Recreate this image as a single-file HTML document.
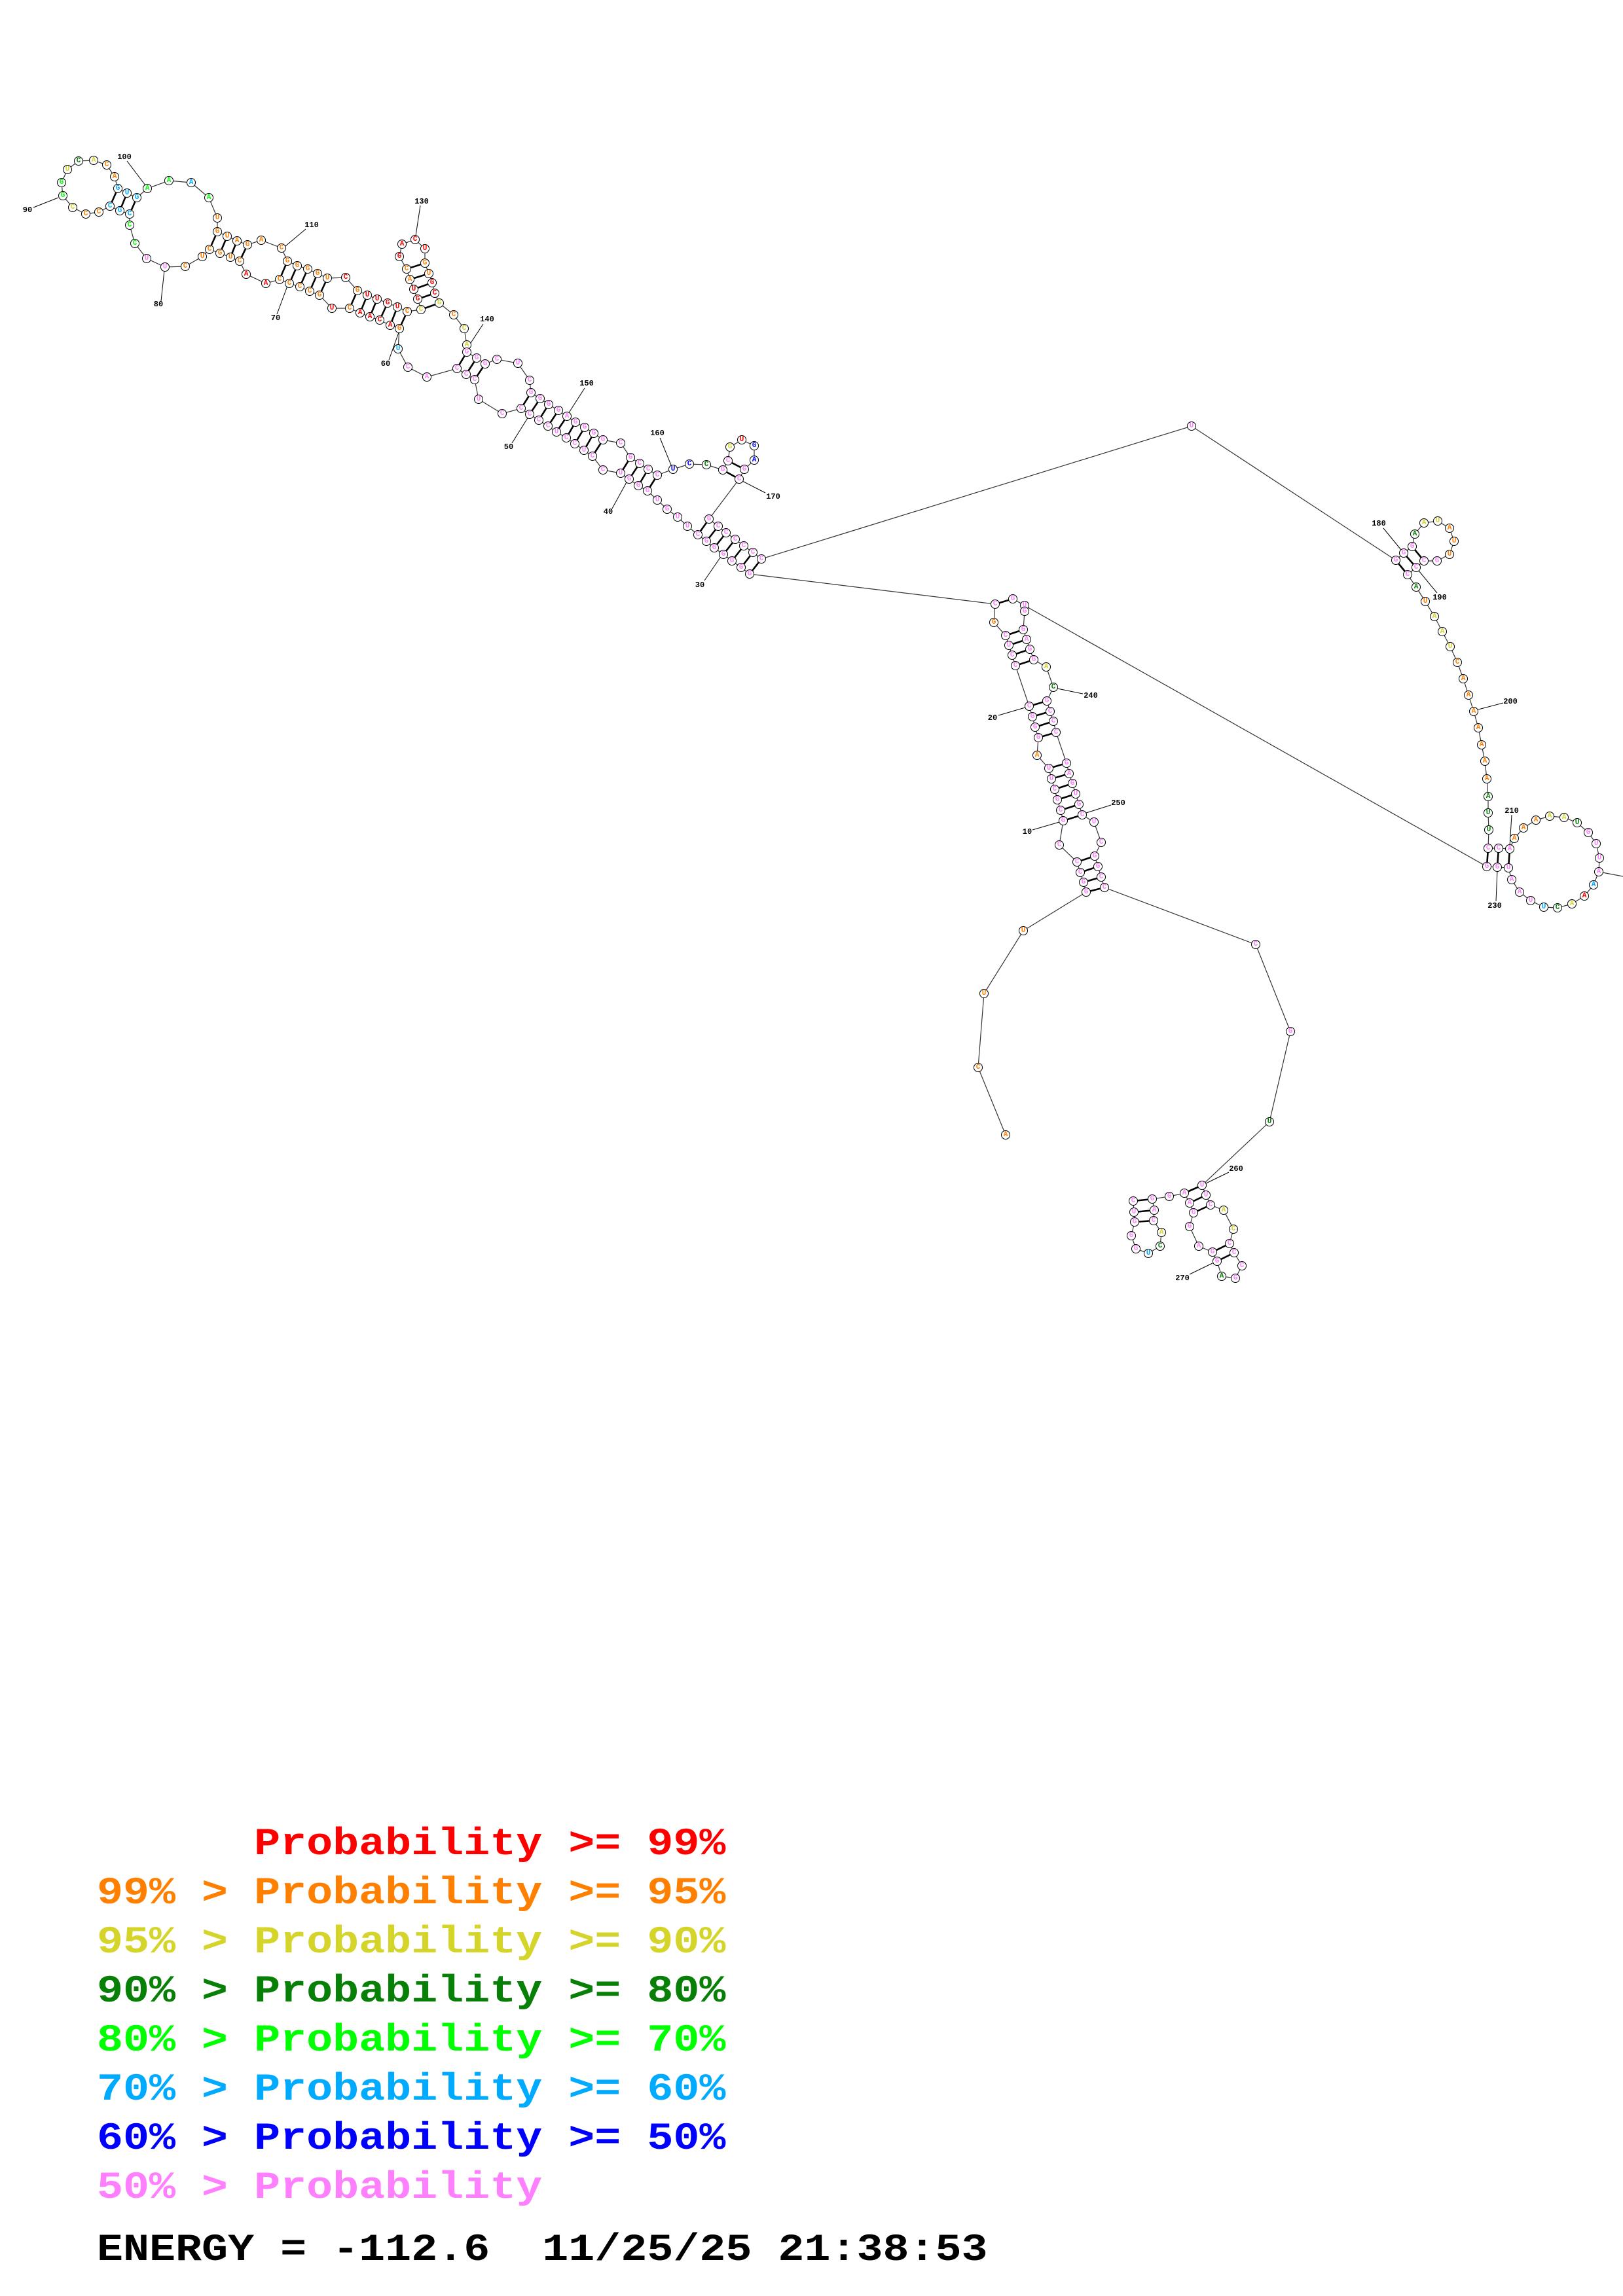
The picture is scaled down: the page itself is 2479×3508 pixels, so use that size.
<!DOCTYPE html>
<html>
<head>
<meta charset="utf-8">
<style>
html,body{margin:0;padding:0;background:#fff;}
svg{display:block;}
.bb{fill:none;stroke:#333;stroke-width:1.2;}
.pr{fill:none;stroke:#000;stroke-width:2.6;}
.tk{fill:none;stroke:#000;stroke-width:1;}
circle{fill:#fff;stroke:#000;stroke-width:1;}
text.n{font-family:"Liberation Mono",monospace;font-weight:bold;font-size:11px;text-anchor:middle;dominant-baseline:central;}
text.lb{font-family:"Liberation Mono",monospace;font-weight:bold;font-size:12px;text-anchor:middle;dominant-baseline:central;fill:#000;}
.r{fill:#ff0000}.o{fill:#ff8000}.y{fill:#d4d42a}.d{fill:#088008}.l{fill:#00ff00}.b{fill:#00aaff}.u{fill:#0000ff}.p{fill:#ff80ff}
text.lg{font-family:"Liberation Mono",monospace;font-weight:bold;font-size:66.7px;white-space:pre;}
</style>
</head>
<body>
<svg width="2479" height="3508" viewBox="0 0 2479 3508" xmlns="http://www.w3.org/2000/svg">
<rect x="0" y="0" width="2479" height="3508" fill="#fff"/>
<polyline class="bb" points="1536,1734 1494,1631 1503,1518 1563,1422 1659,1363 1655,1348 1650,1333 1645,1317 1618,1291 1624,1254 1620,1238 1615,1222 1611,1206 1606,1190 1602,1174 1584,1154 1586,1127 1581,1111 1577,1095 1572,1079 1551,1017 1546,1001 1541,986 1536,971 1518,951 1520,923 1145,877 1132,867 1118,857 1105,847 1091,837 1079,827 1066,817 1050,804 1035,790 1019,778 1004,764 989,750 975,742 961,732 948,723 921,718 905,697 892,688 878,678 865,669 850,660 837,651 823,642 809,633 796,624 767,632 731,610 725,580 712,572 698,563 652,576 623,561 608,533 610,502 596,497 580,489 565,484 550,478 534,471 507,471 488,451 473,445 458,438 442,433 427,427 406,433 376,419 366,399 352,393 336,387 320,381 309,392 283,407 252,408 224,395 206,372 198,344 198,327 183,322 168,315 151,324 131,327 111,317 96,299 94,279 103,259 120,246 143,245 163,252 175,270 180,288 194,295 209,302 225,288 258,276 292,279 319,302 332,333 332,354 347,361 362,368 378,374 399,367 430,379 439,399 454,406 470,411 485,418 500,425 528,424 546,444 561,451 576,457 592,463 607,469 622,476 643,473 638,457 632,442 626,427 621,411 610,392 614,373 634,366 649,380 649,402 655,418 660,432 664,448 671,463 693,481 709,502 713,527 713,538 728,547 741,556 759,549 791,555 809,581 811,600 825,609 838,618 853,627 866,636 879,645 893,653 907,662 921,672 948,677 963,699 977,708 990,717 1004,726 1028,717 1053,709 1079,710 1104,718 1112,704 1115,683 1133,672 1152,681 1152,703 1137,717 1129,732 1083,793 1097,804 1109,814 1123,824 1136,834 1150,844 1163,854 1820,651 2132,856 2144,845 2157,835 2161,816 2175,799 2196,796 2214,807 2221,827 2214,847 2195,857 2175,857 2163,867 2150,878 2163,897 2177,919 2191,942 2203,965 2215,988 2226,1012 2235,1037 2243,1062 2251,1087 2258,1112 2263,1138 2268,1163 2271,1190 2273,1217 2273,1242 2274,1268 2273,1296 2289,1296 2306,1297 2313,1281 2327,1265 2346,1253 2367,1247 2389,1249 2409,1257 2426,1272 2438,1289 2443,1311 2442,1332 2434,1352 2420,1369 2401,1381 2379,1387 2358,1386 2338,1376 2321,1363 2309,1344 2304,1326 2287,1325 2271,1324 1547,915 1565,925 1565,934 1563,962 1568,977 1573,992 1579,1008 1598,1019 1609,1050 1599,1071 1604,1087 1609,1102 1613,1119 1629,1166 1633,1182 1638,1197 1643,1213 1648,1229 1653,1245 1671,1256 1682,1287 1672,1308 1677,1324 1682,1340 1687,1356 1918,1443 1971,1576 1939,1714 1836,1811 1842,1826 1849,1841 1869,1849 1884,1878 1878,1900 1885,1914 1897,1934 1887,1953 1866,1950 1859,1927 1852,1913 1831,1904 1817,1874 1823,1853 1817,1838 1809,1823 1786,1828 1760,1832 1763,1849 1762,1865 1774,1883 1772,1904 1754,1915 1735,1908 1728,1888 1733,1867 1732,1852 1731,1835"/>
<path class="bb" d="M2442 1332L2495 1342"/>
<path class="pr" d="M1659 1363L1687 1356M1655 1348L1682 1340M1650 1333L1677 1324M1645 1317L1672 1308M1624 1254L1653 1245M1620 1238L1648 1229M1615 1222L1643 1213M1611 1206L1638 1197M1606 1190L1633 1182M1602 1174L1629 1166M1586 1127L1613 1119M1581 1111L1609 1102M1577 1095L1604 1087M1572 1079L1599 1071M1551 1017L1579 1008M1546 1001L1573 992M1541 986L1568 977M1536 971L1563 962M1520 923L1547 915M1145 877L1163 854M1132 867L1150 844M1118 857L1136 834M1105 847L1123 824M1091 837L1109 814M1079 827L1097 804M1066 817L1083 793M1104 718L1129 732M1112 704L1137 717M989 750L1004 726M975 742L990 717M961 732L977 708M948 723L963 699M905 697L921 672M892 688L907 662M878 678L893 653M865 669L879 645M850 660L866 636M837 651L853 627M823 642L838 618M809 633L825 609M796 624L811 600M725 580L741 556M712 572L728 547M698 563L713 538M610 502L622 476M596 497L607 469M580 489L592 463M565 484L576 457M550 478L561 451M534 471L546 444M643 473L671 463M638 457L664 448M632 442L660 432M626 427L655 418M621 411L649 402M488 451L500 425M473 445L485 418M458 438L470 411M442 433L454 406M427 427L439 399M366 399L378 374M352 393L362 368M336 387L347 361M320 381L332 354M198 327L209 302M183 322L194 295M168 315L180 288M2132 856L2150 878M2144 845L2163 867M2157 835L2175 857M2273 1296L2271 1324M2289 1296L2287 1325M2306 1297L2304 1326M1836 1811L1809 1823M1842 1826L1817 1838M1849 1841L1823 1853M1878 1900L1852 1913M1885 1914L1859 1927M1760 1832L1731 1835M1763 1849L1732 1852M1762 1865L1733 1867"/>
<path class="tk" d="M1577 1268L1618 1256M1525 1093L1566 1081M1076 887L1100 852M935 777L958 735M782 677L807 637M594 550L609 508M423 480L439 437M246 460L251 413M51 317L89 302M194 246L222 283M467 350L436 376M642 314L635 360M738 495L717 527M893 593L868 632M1008 669L1026 713M1169 753L1134 735M2113 807L2140 840M2195 906L2167 872M2296 1074L2258 1084M2309 1245L2306 1293M2285 1377L2287 1330M1654 1060L1615 1052M1697 1230L1659 1242M1877 1791L1842 1808M1817 1947L1852 1930"/>
<g>
<circle cx="1536" cy="1734" r="6.5"/><text class="n o" x="1536" y="1734">A</text>
<circle cx="1494" cy="1631" r="6.5"/><text class="n o" x="1494" y="1631">C</text>
<circle cx="1503" cy="1518" r="6.5"/><text class="n o" x="1503" y="1518">U</text>
<circle cx="1563" cy="1422" r="6.5"/><text class="n o" x="1563" y="1422">U</text>
<circle cx="1659" cy="1363" r="6.5"/><text class="n p" x="1659" y="1363">G</text>
<circle cx="1655" cy="1348" r="6.5"/><text class="n p" x="1655" y="1348">G</text>
<circle cx="1650" cy="1333" r="6.5"/><text class="n p" x="1650" y="1333">C</text>
<circle cx="1645" cy="1317" r="6.5"/><text class="n p" x="1645" y="1317">C</text>
<circle cx="1618" cy="1291" r="6.5"/><text class="n p" x="1618" y="1291">C</text>
<circle cx="1624" cy="1254" r="6.5"/><text class="n p" x="1624" y="1254">G</text>
<circle cx="1620" cy="1238" r="6.5"/><text class="n p" x="1620" y="1238">C</text>
<circle cx="1615" cy="1222" r="6.5"/><text class="n p" x="1615" y="1222">G</text>
<circle cx="1611" cy="1206" r="6.5"/><text class="n p" x="1611" y="1206">C</text>
<circle cx="1606" cy="1190" r="6.5"/><text class="n p" x="1606" y="1190">U</text>
<circle cx="1602" cy="1174" r="6.5"/><text class="n p" x="1602" y="1174">U</text>
<circle cx="1584" cy="1154" r="6.5"/><text class="n o" x="1584" y="1154">A</text>
<circle cx="1586" cy="1127" r="6.5"/><text class="n p" x="1586" y="1127">G</text>
<circle cx="1581" cy="1111" r="6.5"/><text class="n p" x="1581" y="1111">G</text>
<circle cx="1577" cy="1095" r="6.5"/><text class="n p" x="1577" y="1095">G</text>
<circle cx="1572" cy="1079" r="6.5"/><text class="n p" x="1572" y="1079">C</text>
<circle cx="1551" cy="1017" r="6.5"/><text class="n p" x="1551" y="1017">C</text>
<circle cx="1546" cy="1001" r="6.5"/><text class="n p" x="1546" y="1001">C</text>
<circle cx="1541" cy="986" r="6.5"/><text class="n p" x="1541" y="986">U</text>
<circle cx="1536" cy="971" r="6.5"/><text class="n p" x="1536" y="971">C</text>
<circle cx="1518" cy="951" r="6.5"/><text class="n o" x="1518" y="951">G</text>
<circle cx="1520" cy="923" r="6.5"/><text class="n p" x="1520" y="923">C</text>
<circle cx="1145" cy="877" r="6.5"/><text class="n p" x="1145" y="877">G</text>
<circle cx="1132" cy="867" r="6.5"/><text class="n p" x="1132" y="867">G</text>
<circle cx="1118" cy="857" r="6.5"/><text class="n p" x="1118" y="857">G</text>
<circle cx="1105" cy="847" r="6.5"/><text class="n p" x="1105" y="847">G</text>
<circle cx="1091" cy="837" r="6.5"/><text class="n p" x="1091" y="837">G</text>
<circle cx="1079" cy="827" r="6.5"/><text class="n p" x="1079" y="827">G</text>
<circle cx="1066" cy="817" r="6.5"/><text class="n p" x="1066" y="817">C</text>
<circle cx="1050" cy="804" r="6.5"/><text class="n p" x="1050" y="804">U</text>
<circle cx="1035" cy="790" r="6.5"/><text class="n p" x="1035" y="790">U</text>
<circle cx="1019" cy="778" r="6.5"/><text class="n p" x="1019" y="778">G</text>
<circle cx="1004" cy="764" r="6.5"/><text class="n p" x="1004" y="764">U</text>
<circle cx="989" cy="750" r="6.5"/><text class="n p" x="989" y="750">G</text>
<circle cx="975" cy="742" r="6.5"/><text class="n p" x="975" y="742">G</text>
<circle cx="961" cy="732" r="6.5"/><text class="n p" x="961" y="732">G</text>
<circle cx="948" cy="723" r="6.5"/><text class="n p" x="948" y="723">U</text>
<circle cx="921" cy="718" r="6.5"/><text class="n p" x="921" y="718">C</text>
<circle cx="905" cy="697" r="6.5"/><text class="n p" x="905" y="697">C</text>
<circle cx="892" cy="688" r="6.5"/><text class="n p" x="892" y="688">U</text>
<circle cx="878" cy="678" r="6.5"/><text class="n p" x="878" y="678">C</text>
<circle cx="865" cy="669" r="6.5"/><text class="n p" x="865" y="669">C</text>
<circle cx="850" cy="660" r="6.5"/><text class="n p" x="850" y="660">U</text>
<circle cx="837" cy="651" r="6.5"/><text class="n p" x="837" y="651">C</text>
<circle cx="823" cy="642" r="6.5"/><text class="n p" x="823" y="642">C</text>
<circle cx="809" cy="633" r="6.5"/><text class="n p" x="809" y="633">C</text>
<circle cx="796" cy="624" r="6.5"/><text class="n p" x="796" y="624">C</text>
<circle cx="767" cy="632" r="6.5"/><text class="n p" x="767" y="632">C</text>
<circle cx="731" cy="610" r="6.5"/><text class="n p" x="731" y="610">U</text>
<circle cx="725" cy="580" r="6.5"/><text class="n p" x="725" y="580">C</text>
<circle cx="712" cy="572" r="6.5"/><text class="n p" x="712" y="572">C</text>
<circle cx="698" cy="563" r="6.5"/><text class="n p" x="698" y="563">C</text>
<circle cx="652" cy="576" r="6.5"/><text class="n p" x="652" y="576">A</text>
<circle cx="623" cy="561" r="6.5"/><text class="n p" x="623" y="561">C</text>
<circle cx="608" cy="533" r="6.5"/><text class="n b" x="608" y="533">U</text>
<circle cx="610" cy="502" r="6.5"/><text class="n o" x="610" y="502">G</text>
<circle cx="596" cy="497" r="6.5"/><text class="n r" x="596" y="497">A</text>
<circle cx="580" cy="489" r="6.5"/><text class="n r" x="580" y="489">C</text>
<circle cx="565" cy="484" r="6.5"/><text class="n r" x="565" y="484">A</text>
<circle cx="550" cy="478" r="6.5"/><text class="n r" x="550" y="478">A</text>
<circle cx="534" cy="471" r="6.5"/><text class="n o" x="534" y="471">C</text>
<circle cx="507" cy="471" r="6.5"/><text class="n r" x="507" y="471">U</text>
<circle cx="488" cy="451" r="6.5"/><text class="n o" x="488" y="451">G</text>
<circle cx="473" cy="445" r="6.5"/><text class="n o" x="473" y="445">C</text>
<circle cx="458" cy="438" r="6.5"/><text class="n o" x="458" y="438">C</text>
<circle cx="442" cy="433" r="6.5"/><text class="n o" x="442" y="433">C</text>
<circle cx="427" cy="427" r="6.5"/><text class="n o" x="427" y="427">C</text>
<circle cx="406" cy="433" r="6.5"/><text class="n r" x="406" y="433">A</text>
<circle cx="376" cy="419" r="6.5"/><text class="n r" x="376" y="419">A</text>
<circle cx="366" cy="399" r="6.5"/><text class="n o" x="366" y="399">C</text>
<circle cx="352" cy="393" r="6.5"/><text class="n o" x="352" y="393">U</text>
<circle cx="336" cy="387" r="6.5"/><text class="n o" x="336" y="387">G</text>
<circle cx="320" cy="381" r="6.5"/><text class="n o" x="320" y="381">C</text>
<circle cx="309" cy="392" r="6.5"/><text class="n o" x="309" y="392">U</text>
<circle cx="283" cy="407" r="6.5"/><text class="n o" x="283" y="407">C</text>
<circle cx="252" cy="408" r="6.5"/><text class="n p" x="252" y="408">U</text>
<circle cx="224" cy="395" r="6.5"/><text class="n p" x="224" y="395">U</text>
<circle cx="206" cy="372" r="6.5"/><text class="n l" x="206" y="372">C</text>
<circle cx="198" cy="344" r="6.5"/><text class="n l" x="198" y="344">C</text>
<circle cx="198" cy="327" r="6.5"/><text class="n b" x="198" y="327">C</text>
<circle cx="183" cy="322" r="6.5"/><text class="n b" x="183" y="322">G</text>
<circle cx="168" cy="315" r="6.5"/><text class="n b" x="168" y="315">C</text>
<circle cx="151" cy="324" r="6.5"/><text class="n o" x="151" y="324">C</text>
<circle cx="131" cy="327" r="6.5"/><text class="n o" x="131" y="327">C</text>
<circle cx="111" cy="317" r="6.5"/><text class="n y" x="111" y="317">C</text>
<circle cx="96" cy="299" r="6.5"/><text class="n l" x="96" y="299">G</text>
<circle cx="94" cy="279" r="6.5"/><text class="n l" x="94" y="279">G</text>
<circle cx="103" cy="259" r="6.5"/><text class="n y" x="103" y="259">U</text>
<circle cx="120" cy="246" r="6.5"/><text class="n d" x="120" y="246">C</text>
<circle cx="143" cy="245" r="6.5"/><text class="n y" x="143" y="245">A</text>
<circle cx="163" cy="252" r="6.5"/><text class="n o" x="163" y="252">C</text>
<circle cx="175" cy="270" r="6.5"/><text class="n o" x="175" y="270">A</text>
<circle cx="180" cy="288" r="6.5"/><text class="n b" x="180" y="288">G</text>
<circle cx="194" cy="295" r="6.5"/><text class="n b" x="194" y="295">U</text>
<circle cx="209" cy="302" r="6.5"/><text class="n b" x="209" y="302">G</text>
<circle cx="225" cy="288" r="6.5"/><text class="n l" x="225" y="288">A</text>
<circle cx="258" cy="276" r="6.5"/><text class="n l" x="258" y="276">A</text>
<circle cx="292" cy="279" r="6.5"/><text class="n b" x="292" y="279">A</text>
<circle cx="319" cy="302" r="6.5"/><text class="n l" x="319" y="302">A</text>
<circle cx="332" cy="333" r="6.5"/><text class="n o" x="332" y="333">U</text>
<circle cx="332" cy="354" r="6.5"/><text class="n o" x="332" y="354">G</text>
<circle cx="347" cy="361" r="6.5"/><text class="n o" x="347" y="361">U</text>
<circle cx="362" cy="368" r="6.5"/><text class="n o" x="362" y="368">A</text>
<circle cx="378" cy="374" r="6.5"/><text class="n o" x="378" y="374">G</text>
<circle cx="399" cy="367" r="6.5"/><text class="n o" x="399" y="367">A</text>
<circle cx="430" cy="379" r="6.5"/><text class="n o" x="430" y="379">C</text>
<circle cx="439" cy="399" r="6.5"/><text class="n o" x="439" y="399">G</text>
<circle cx="454" cy="406" r="6.5"/><text class="n o" x="454" y="406">G</text>
<circle cx="470" cy="411" r="6.5"/><text class="n o" x="470" y="411">G</text>
<circle cx="485" cy="418" r="6.5"/><text class="n o" x="485" y="418">G</text>
<circle cx="500" cy="425" r="6.5"/><text class="n o" x="500" y="425">U</text>
<circle cx="528" cy="424" r="6.5"/><text class="n r" x="528" y="424">C</text>
<circle cx="546" cy="444" r="6.5"/><text class="n o" x="546" y="444">G</text>
<circle cx="561" cy="451" r="6.5"/><text class="n r" x="561" y="451">U</text>
<circle cx="576" cy="457" r="6.5"/><text class="n r" x="576" y="457">U</text>
<circle cx="592" cy="463" r="6.5"/><text class="n r" x="592" y="463">G</text>
<circle cx="607" cy="469" r="6.5"/><text class="n r" x="607" y="469">U</text>
<circle cx="622" cy="476" r="6.5"/><text class="n o" x="622" y="476">C</text>
<circle cx="643" cy="473" r="6.5"/><text class="n y" x="643" y="473">C</text>
<circle cx="638" cy="457" r="6.5"/><text class="n r" x="638" y="457">G</text>
<circle cx="632" cy="442" r="6.5"/><text class="n r" x="632" y="442">U</text>
<circle cx="626" cy="427" r="6.5"/><text class="n o" x="626" y="427">A</text>
<circle cx="621" cy="411" r="6.5"/><text class="n o" x="621" y="411">C</text>
<circle cx="610" cy="392" r="6.5"/><text class="n r" x="610" y="392">G</text>
<circle cx="614" cy="373" r="6.5"/><text class="n r" x="614" y="373">A</text>
<circle cx="634" cy="366" r="6.5"/><text class="n r" x="634" y="366">C</text>
<circle cx="649" cy="380" r="6.5"/><text class="n r" x="649" y="380">U</text>
<circle cx="649" cy="402" r="6.5"/><text class="n o" x="649" y="402">G</text>
<circle cx="655" cy="418" r="6.5"/><text class="n o" x="655" y="418">U</text>
<circle cx="660" cy="432" r="6.5"/><text class="n r" x="660" y="432">G</text>
<circle cx="664" cy="448" r="6.5"/><text class="n r" x="664" y="448">C</text>
<circle cx="671" cy="463" r="6.5"/><text class="n y" x="671" y="463">G</text>
<circle cx="693" cy="481" r="6.5"/><text class="n o" x="693" y="481">C</text>
<circle cx="709" cy="502" r="6.5"/><text class="n y" x="709" y="502">C</text>
<circle cx="713" cy="527" r="6.5"/><text class="n y" x="713" y="527">A</text>
<circle cx="713" cy="538" r="6.5"/><text class="n p" x="713" y="538">G</text>
<circle cx="728" cy="547" r="6.5"/><text class="n p" x="728" y="547">G</text>
<circle cx="741" cy="556" r="6.5"/><text class="n p" x="741" y="556">G</text>
<circle cx="759" cy="549" r="6.5"/><text class="n p" x="759" y="549">C</text>
<circle cx="791" cy="555" r="6.5"/><text class="n p" x="791" y="555">U</text>
<circle cx="809" cy="581" r="6.5"/><text class="n p" x="809" y="581">C</text>
<circle cx="811" cy="600" r="6.5"/><text class="n p" x="811" y="600">G</text>
<circle cx="825" cy="609" r="6.5"/><text class="n p" x="825" y="609">G</text>
<circle cx="838" cy="618" r="6.5"/><text class="n p" x="838" y="618">G</text>
<circle cx="853" cy="627" r="6.5"/><text class="n p" x="853" y="627">G</text>
<circle cx="866" cy="636" r="6.5"/><text class="n p" x="866" y="636">A</text>
<circle cx="879" cy="645" r="6.5"/><text class="n p" x="879" y="645">G</text>
<circle cx="893" cy="653" r="6.5"/><text class="n p" x="893" y="653">G</text>
<circle cx="907" cy="662" r="6.5"/><text class="n p" x="907" y="662">G</text>
<circle cx="921" cy="672" r="6.5"/><text class="n p" x="921" y="672">G</text>
<circle cx="948" cy="677" r="6.5"/><text class="n p" x="948" y="677">C</text>
<circle cx="963" cy="699" r="6.5"/><text class="n p" x="963" y="699">G</text>
<circle cx="977" cy="708" r="6.5"/><text class="n p" x="977" y="708">C</text>
<circle cx="990" cy="717" r="6.5"/><text class="n p" x="990" y="717">C</text>
<circle cx="1004" cy="726" r="6.5"/><text class="n p" x="1004" y="726">C</text>
<circle cx="1028" cy="717" r="6.5"/><text class="n u" x="1028" y="717">U</text>
<circle cx="1053" cy="709" r="6.5"/><text class="n u" x="1053" y="709">C</text>
<circle cx="1079" cy="710" r="6.5"/><text class="n d" x="1079" y="710">C</text>
<circle cx="1104" cy="718" r="6.5"/><text class="n p" x="1104" y="718">G</text>
<circle cx="1112" cy="704" r="6.5"/><text class="n p" x="1112" y="704">C</text>
<circle cx="1115" cy="683" r="6.5"/><text class="n y" x="1115" y="683">G</text>
<circle cx="1133" cy="672" r="6.5"/><text class="n r" x="1133" y="672">U</text>
<circle cx="1152" cy="681" r="6.5"/><text class="n u" x="1152" y="681">G</text>
<circle cx="1152" cy="703" r="6.5"/><text class="n u" x="1152" y="703">A</text>
<circle cx="1137" cy="717" r="6.5"/><text class="n p" x="1137" y="717">G</text>
<circle cx="1129" cy="732" r="6.5"/><text class="n p" x="1129" y="732">C</text>
<circle cx="1083" cy="793" r="6.5"/><text class="n p" x="1083" y="793">G</text>
<circle cx="1097" cy="804" r="6.5"/><text class="n p" x="1097" y="804">C</text>
<circle cx="1109" cy="814" r="6.5"/><text class="n p" x="1109" y="814">C</text>
<circle cx="1123" cy="824" r="6.5"/><text class="n p" x="1123" y="824">C</text>
<circle cx="1136" cy="834" r="6.5"/><text class="n p" x="1136" y="834">C</text>
<circle cx="1150" cy="844" r="6.5"/><text class="n p" x="1150" y="844">C</text>
<circle cx="1163" cy="854" r="6.5"/><text class="n p" x="1163" y="854">C</text>
<circle cx="1820" cy="651" r="6.5"/><text class="n p" x="1820" y="651">U</text>
<circle cx="2132" cy="856" r="6.5"/><text class="n p" x="2132" y="856">G</text>
<circle cx="2144" cy="845" r="6.5"/><text class="n p" x="2144" y="845">G</text>
<circle cx="2157" cy="835" r="6.5"/><text class="n p" x="2157" y="835">G</text>
<circle cx="2161" cy="816" r="6.5"/><text class="n d" x="2161" y="816">A</text>
<circle cx="2175" cy="799" r="6.5"/><text class="n y" x="2175" y="799">A</text>
<circle cx="2196" cy="796" r="6.5"/><text class="n y" x="2196" y="796">U</text>
<circle cx="2214" cy="807" r="6.5"/><text class="n o" x="2214" y="807">A</text>
<circle cx="2221" cy="827" r="6.5"/><text class="n o" x="2221" y="827">U</text>
<circle cx="2214" cy="847" r="6.5"/><text class="n o" x="2214" y="847">U</text>
<circle cx="2195" cy="857" r="6.5"/><text class="n p" x="2195" y="857">G</text>
<circle cx="2175" cy="857" r="6.5"/><text class="n p" x="2175" y="857">C</text>
<circle cx="2163" cy="867" r="6.5"/><text class="n p" x="2163" y="867">C</text>
<circle cx="2150" cy="878" r="6.5"/><text class="n p" x="2150" y="878">C</text>
<circle cx="2163" cy="897" r="6.5"/><text class="n d" x="2163" y="897">A</text>
<circle cx="2177" cy="919" r="6.5"/><text class="n o" x="2177" y="919">U</text>
<circle cx="2191" cy="942" r="6.5"/><text class="n y" x="2191" y="942">A</text>
<circle cx="2203" cy="965" r="6.5"/><text class="n y" x="2203" y="965">A</text>
<circle cx="2215" cy="988" r="6.5"/><text class="n y" x="2215" y="988">U</text>
<circle cx="2226" cy="1012" r="6.5"/><text class="n o" x="2226" y="1012">C</text>
<circle cx="2235" cy="1037" r="6.5"/><text class="n o" x="2235" y="1037">A</text>
<circle cx="2243" cy="1062" r="6.5"/><text class="n o" x="2243" y="1062">A</text>
<circle cx="2251" cy="1087" r="6.5"/><text class="n o" x="2251" y="1087">A</text>
<circle cx="2258" cy="1112" r="6.5"/><text class="n o" x="2258" y="1112">A</text>
<circle cx="2263" cy="1138" r="6.5"/><text class="n o" x="2263" y="1138">A</text>
<circle cx="2268" cy="1163" r="6.5"/><text class="n o" x="2268" y="1163">A</text>
<circle cx="2271" cy="1190" r="6.5"/><text class="n o" x="2271" y="1190">A</text>
<circle cx="2273" cy="1217" r="6.5"/><text class="n d" x="2273" y="1217">A</text>
<circle cx="2273" cy="1242" r="6.5"/><text class="n d" x="2273" y="1242">U</text>
<circle cx="2274" cy="1268" r="6.5"/><text class="n d" x="2274" y="1268">U</text>
<circle cx="2273" cy="1296" r="6.5"/><text class="n p" x="2273" y="1296">C</text>
<circle cx="2289" cy="1296" r="6.5"/><text class="n p" x="2289" y="1296">C</text>
<circle cx="2306" cy="1297" r="6.5"/><text class="n p" x="2306" y="1297">A</text>
<circle cx="2313" cy="1281" r="6.5"/><text class="n o" x="2313" y="1281">A</text>
<circle cx="2327" cy="1265" r="6.5"/><text class="n o" x="2327" y="1265">A</text>
<circle cx="2346" cy="1253" r="6.5"/><text class="n o" x="2346" y="1253">A</text>
<circle cx="2367" cy="1247" r="6.5"/><text class="n y" x="2367" y="1247">A</text>
<circle cx="2389" cy="1249" r="6.5"/><text class="n y" x="2389" y="1249">A</text>
<circle cx="2409" cy="1257" r="6.5"/><text class="n d" x="2409" y="1257">U</text>
<circle cx="2426" cy="1272" r="6.5"/><text class="n p" x="2426" y="1272">G</text>
<circle cx="2438" cy="1289" r="6.5"/><text class="n p" x="2438" y="1289">U</text>
<circle cx="2443" cy="1311" r="6.5"/><text class="n p" x="2443" y="1311">U</text>
<circle cx="2442" cy="1332" r="6.5"/><text class="n p" x="2442" y="1332">A</text>
<circle cx="2434" cy="1352" r="6.5"/><text class="n b" x="2434" y="1352">A</text>
<circle cx="2420" cy="1369" r="6.5"/><text class="n r" x="2420" y="1369">A</text>
<circle cx="2401" cy="1381" r="6.5"/><text class="n y" x="2401" y="1381">A</text>
<circle cx="2379" cy="1387" r="6.5"/><text class="n d" x="2379" y="1387">C</text>
<circle cx="2358" cy="1386" r="6.5"/><text class="n b" x="2358" y="1386">U</text>
<circle cx="2338" cy="1376" r="6.5"/><text class="n p" x="2338" y="1376">U</text>
<circle cx="2321" cy="1363" r="6.5"/><text class="n p" x="2321" y="1363">A</text>
<circle cx="2309" cy="1344" r="6.5"/><text class="n p" x="2309" y="1344">A</text>
<circle cx="2304" cy="1326" r="6.5"/><text class="n p" x="2304" y="1326">U</text>
<circle cx="2287" cy="1325" r="6.5"/><text class="n p" x="2287" y="1325">G</text>
<circle cx="2271" cy="1324" r="6.5"/><text class="n p" x="2271" y="1324">G</text>
<circle cx="1547" cy="915" r="6.5"/><text class="n p" x="1547" y="915">G</text>
<circle cx="1565" cy="925" r="6.5"/><text class="n p" x="1565" y="925">U</text>
<circle cx="1565" cy="934" r="6.5"/><text class="n p" x="1565" y="934">G</text>
<circle cx="1563" cy="962" r="6.5"/><text class="n p" x="1563" y="962">G</text>
<circle cx="1568" cy="977" r="6.5"/><text class="n p" x="1568" y="977">A</text>
<circle cx="1573" cy="992" r="6.5"/><text class="n p" x="1573" y="992">G</text>
<circle cx="1579" cy="1008" r="6.5"/><text class="n p" x="1579" y="1008">G</text>
<circle cx="1598" cy="1019" r="6.5"/><text class="n y" x="1598" y="1019">A</text>
<circle cx="1609" cy="1050" r="6.5"/><text class="n d" x="1609" y="1050">C</text>
<circle cx="1599" cy="1071" r="6.5"/><text class="n p" x="1599" y="1071">G</text>
<circle cx="1604" cy="1087" r="6.5"/><text class="n p" x="1604" y="1087">C</text>
<circle cx="1609" cy="1102" r="6.5"/><text class="n p" x="1609" y="1102">C</text>
<circle cx="1613" cy="1119" r="6.5"/><text class="n p" x="1613" y="1119">C</text>
<circle cx="1629" cy="1166" r="6.5"/><text class="n p" x="1629" y="1166">G</text>
<circle cx="1633" cy="1182" r="6.5"/><text class="n p" x="1633" y="1182">A</text>
<circle cx="1638" cy="1197" r="6.5"/><text class="n p" x="1638" y="1197">G</text>
<circle cx="1643" cy="1213" r="6.5"/><text class="n p" x="1643" y="1213">U</text>
<circle cx="1648" cy="1229" r="6.5"/><text class="n p" x="1648" y="1229">G</text>
<circle cx="1653" cy="1245" r="6.5"/><text class="n p" x="1653" y="1245">C</text>
<circle cx="1671" cy="1256" r="6.5"/><text class="n p" x="1671" y="1256">U</text>
<circle cx="1682" cy="1287" r="6.5"/><text class="n p" x="1682" y="1287">C</text>
<circle cx="1672" cy="1308" r="6.5"/><text class="n p" x="1672" y="1308">G</text>
<circle cx="1677" cy="1324" r="6.5"/><text class="n p" x="1677" y="1324">G</text>
<circle cx="1682" cy="1340" r="6.5"/><text class="n p" x="1682" y="1340">C</text>
<circle cx="1687" cy="1356" r="6.5"/><text class="n p" x="1687" y="1356">C</text>
<circle cx="1918" cy="1443" r="6.5"/><text class="n p" x="1918" y="1443">C</text>
<circle cx="1971" cy="1576" r="6.5"/><text class="n p" x="1971" y="1576">G</text>
<circle cx="1939" cy="1714" r="6.5"/><text class="n d" x="1939" y="1714">U</text>
<circle cx="1836" cy="1811" r="6.5"/><text class="n p" x="1836" y="1811">U</text>
<circle cx="1842" cy="1826" r="6.5"/><text class="n p" x="1842" y="1826">U</text>
<circle cx="1849" cy="1841" r="6.5"/><text class="n p" x="1849" y="1841">C</text>
<circle cx="1869" cy="1849" r="6.5"/><text class="n y" x="1869" y="1849">A</text>
<circle cx="1884" cy="1878" r="6.5"/><text class="n y" x="1884" y="1878">C</text>
<circle cx="1878" cy="1900" r="6.5"/><text class="n p" x="1878" y="1900">C</text>
<circle cx="1885" cy="1914" r="6.5"/><text class="n p" x="1885" y="1914">C</text>
<circle cx="1897" cy="1934" r="6.5"/><text class="n p" x="1897" y="1934">C</text>
<circle cx="1887" cy="1953" r="6.5"/><text class="n p" x="1887" y="1953">G</text>
<circle cx="1866" cy="1950" r="6.5"/><text class="n d" x="1866" y="1950">A</text>
<circle cx="1859" cy="1927" r="6.5"/><text class="n p" x="1859" y="1927">G</text>
<circle cx="1852" cy="1913" r="6.5"/><text class="n p" x="1852" y="1913">G</text>
<circle cx="1831" cy="1904" r="6.5"/><text class="n p" x="1831" y="1904">A</text>
<circle cx="1817" cy="1874" r="6.5"/><text class="n p" x="1817" y="1874">G</text>
<circle cx="1823" cy="1853" r="6.5"/><text class="n p" x="1823" y="1853">G</text>
<circle cx="1817" cy="1838" r="6.5"/><text class="n p" x="1817" y="1838">A</text>
<circle cx="1809" cy="1823" r="6.5"/><text class="n p" x="1809" y="1823">A</text>
<circle cx="1786" cy="1828" r="6.5"/><text class="n p" x="1786" y="1828">G</text>
<circle cx="1760" cy="1832" r="6.5"/><text class="n p" x="1760" y="1832">G</text>
<circle cx="1763" cy="1849" r="6.5"/><text class="n p" x="1763" y="1849">A</text>
<circle cx="1762" cy="1865" r="6.5"/><text class="n p" x="1762" y="1865">C</text>
<circle cx="1774" cy="1883" r="6.5"/><text class="n y" x="1774" y="1883">A</text>
<circle cx="1772" cy="1904" r="6.5"/><text class="n d" x="1772" y="1904">C</text>
<circle cx="1754" cy="1915" r="6.5"/><text class="n b" x="1754" y="1915">U</text>
<circle cx="1735" cy="1908" r="6.5"/><text class="n p" x="1735" y="1908">G</text>
<circle cx="1728" cy="1888" r="6.5"/><text class="n p" x="1728" y="1888">G</text>
<circle cx="1733" cy="1867" r="6.5"/><text class="n p" x="1733" y="1867">G</text>
<circle cx="1732" cy="1852" r="6.5"/><text class="n p" x="1732" y="1852">U</text>
<circle cx="1731" cy="1835" r="6.5"/><text class="n p" x="1731" y="1835">C</text>
</g>
<g>
<text class="lb" x="1569" y="1271">10</text>
<text class="lb" x="1516" y="1097">20</text>
<text class="lb" x="1069" y="894">30</text>
<text class="lb" x="929" y="782">40</text>
<text class="lb" x="777" y="683">50</text>
<text class="lb" x="589" y="556">60</text>
<text class="lb" x="421" y="486">70</text>
<text class="lb" x="242" y="465">80</text>
<text class="lb" x="42" y="321">90</text>
<text class="lb" x="190" y="240">100</text>
<text class="lb" x="476" y="344">110</text>
<text class="lb" x="644" y="308">130</text>
<text class="lb" x="744" y="488">140</text>
<text class="lb" x="896" y="586">150</text>
<text class="lb" x="1004" y="662">160</text>
<text class="lb" x="1181" y="759">170</text>
<text class="lb" x="2106" y="800">180</text>
<text class="lb" x="2199" y="913">190</text>
<text class="lb" x="2307" y="1072">200</text>
<text class="lb" x="2309" y="1239">210</text>
<text class="lb" x="2283" y="1384">230</text>
<text class="lb" x="1666" y="1063">240</text>
<text class="lb" x="1708" y="1227">250</text>
<text class="lb" x="1888" y="1786">260</text>
<text class="lb" x="1806" y="1953">270</text>
</g>
<g>
<g transform="translate(0,2833) scale(1,0.87)"><text class="lg" x="148" y="0" fill="#ff0000" xml:space="preserve">      Probability &gt;= 99%</text></g>
<g transform="translate(0,2908) scale(1,0.87)"><text class="lg" x="148" y="0" fill="#ff8000" xml:space="preserve">99% &gt; Probability &gt;= 95%</text></g>
<g transform="translate(0,2983) scale(1,0.87)"><text class="lg" x="148" y="0" fill="#d4d42a" xml:space="preserve">95% &gt; Probability &gt;= 90%</text></g>
<g transform="translate(0,3058) scale(1,0.87)"><text class="lg" x="148" y="0" fill="#088008" xml:space="preserve">90% &gt; Probability &gt;= 80%</text></g>
<g transform="translate(0,3133) scale(1,0.87)"><text class="lg" x="148" y="0" fill="#00ff00" xml:space="preserve">80% &gt; Probability &gt;= 70%</text></g>
<g transform="translate(0,3208) scale(1,0.87)"><text class="lg" x="148" y="0" fill="#00aaff" xml:space="preserve">70% &gt; Probability &gt;= 60%</text></g>
<g transform="translate(0,3283) scale(1,0.87)"><text class="lg" x="148" y="0" fill="#0000ff" xml:space="preserve">60% &gt; Probability &gt;= 50%</text></g>
<g transform="translate(0,3358) scale(1,0.87)"><text class="lg" x="148" y="0" fill="#ff80ff" xml:space="preserve">50% &gt; Probability</text></g>
<g transform="translate(0,3453) scale(1,0.87)"><text class="lg" x="148" y="0" fill="#000000" xml:space="preserve">ENERGY = -112.6  11/25/25 21:38:53</text></g>
</g>
</svg>
</body>
</html>
